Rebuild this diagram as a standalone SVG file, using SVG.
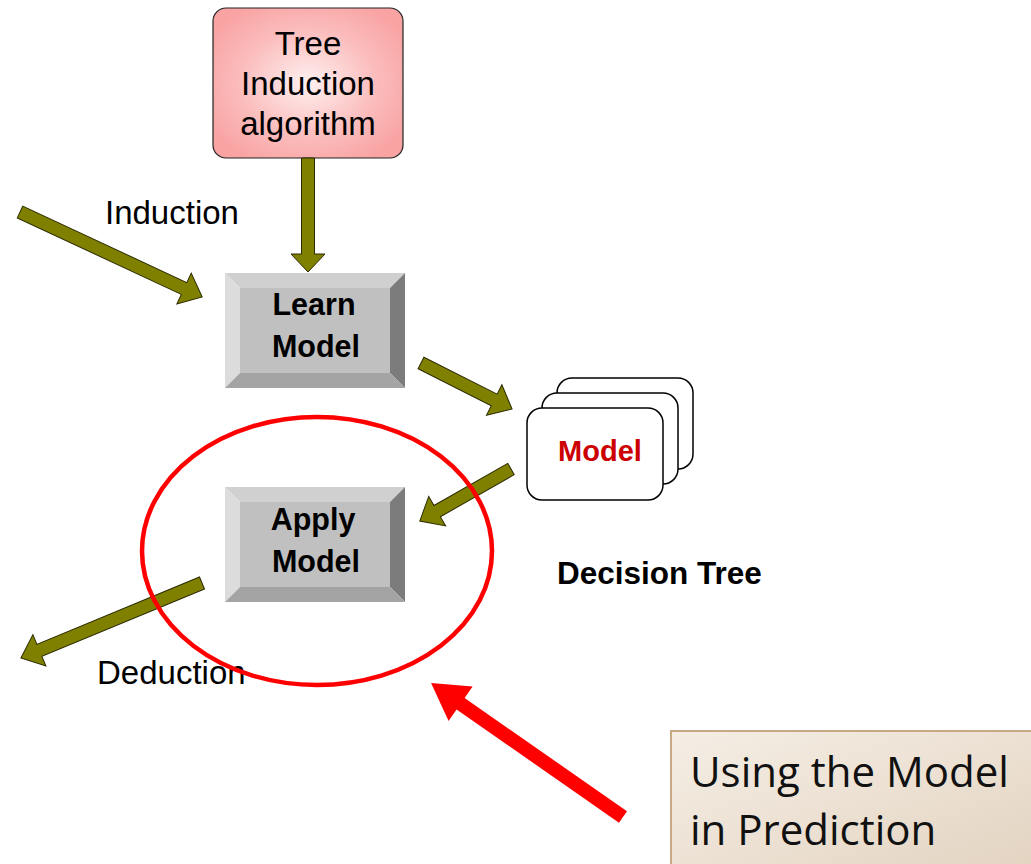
<svg xmlns="http://www.w3.org/2000/svg" width="1031" height="864" viewBox="0 0 1031 864">
<style>
.t{font-family:"Liberation Sans",Arial,sans-serif;fill:#000}
.b{font-family:"Liberation Sans",Arial,sans-serif;font-weight:bold}
.arr{fill:#808000;stroke:#2a2a00;stroke-width:1}
.card{fill:#fff;stroke:#000;stroke-width:1.5}
.co{font-family:"Open Sans","Liberation Sans",sans-serif;font-size:42px;fill:#111}
</style>
<defs>
<radialGradient id="pink" cx="50%" cy="50%" r="60%">
<stop offset="0" stop-color="#fff0f0"/>
<stop offset="0.6" stop-color="#fbbcbc"/>
<stop offset="1" stop-color="#f9a3a3"/>
</radialGradient>
<linearGradient id="beige" x1="0" y1="0" x2="1" y2="1">
<stop offset="0" stop-color="#f5eee5"/>
<stop offset="1" stop-color="#e2d2bf"/>
</linearGradient>
</defs>
<rect width="1031" height="864" fill="#fff"/>

<g id="tree-induction">
<rect x="213" y="8" width="190" height="150" rx="13" fill="url(#pink)" stroke="#222" stroke-width="1.2"/>
<text class="t" font-size="33" text-anchor="middle" x="308" y="55">Tree</text>
<text class="t" font-size="33" text-anchor="middle" x="308" y="95">Induction</text>
<text class="t" font-size="33" text-anchor="middle" x="308" y="135">algorithm</text>
</g>

<g id="learn-model">
<polygon points="225,273 405,273 390,288 240,288" fill="#d0d0d0"/>
<polygon points="225,273 240,288 240,373 225,388" fill="#dcdcdc"/>
<polygon points="405,273 405,388 390,373 390,288" fill="#7c7c7c"/>
<polygon points="225,388 240,373 390,373 405,388" fill="#a4a4a4"/>
<rect x="240" y="288" width="150" height="85" fill="#c0c0c0"/>
<text class="b" font-size="30.5" text-anchor="middle" x="314" y="315">Learn</text>
<text class="b" font-size="30.5" text-anchor="middle" x="316" y="357">Model</text>
</g>

<g id="apply-model">
<polygon points="225,487 405,487 390,502 240,502" fill="#d0d0d0"/>
<polygon points="225,487 240,502 240,587 225,602" fill="#dcdcdc"/>
<polygon points="405,487 405,602 390,587 390,502" fill="#7c7c7c"/>
<polygon points="225,602 240,587 390,587 405,602" fill="#a4a4a4"/>
<rect x="240" y="502" width="150" height="85" fill="#c0c0c0"/>
<text class="b" font-size="30.5" text-anchor="middle" x="313" y="530">Apply</text>
<text class="b" font-size="30.5" text-anchor="middle" x="316" y="572">Model</text>
</g>

<g id="model">
<rect class="card" x="557" y="378" width="136" height="91" rx="15"/>
<rect class="card" x="542" y="393" width="136" height="91" rx="15"/>
<rect class="card" x="527" y="408" width="136" height="92" rx="15"/>
<text class="b" font-size="29" fill="#cc0000" text-anchor="middle" x="600" y="461">Model</text>
</g>

<g id="decision-tree-label">
<text class="b" font-size="31.5" fill="#000" x="557" y="584">Decision Tree</text>
</g>

<g id="labels">
<text class="t" font-size="33" x="105" y="224">Induction</text>
<text class="t" font-size="33" x="97" y="684">Deduction</text>
</g>

<g id="connectors">
<polygon class="arr" transform="translate(20,212) rotate(25)" points="0,-6.5 181,-6.5 181,-17 201,0 181,17 181,6.5 0,6.5"/>
<polygon class="arr" transform="translate(308,158) rotate(90)" points="0,-6.5 96,-6.5 96,-17 114,0 96,17 96,6.5 0,6.5"/>
<polygon class="arr" transform="translate(421,363) rotate(26.8)" points="0,-6.5 82,-6.5 82,-17 102,0 82,17 82,6.5 0,6.5"/>
<polygon class="arr" transform="translate(511,469) rotate(150.3)" points="0,-6.5 85,-6.5 85,-17 105,0 85,17 85,6.5 0,6.5"/>
<polygon class="arr" transform="translate(202,583) rotate(157.5)" points="0,-6.5 176,-6.5 176,-17 196,0 176,17 176,6.5 0,6.5"/>
</g>

<g id="highlight">
<ellipse cx="317" cy="551" rx="175" ry="134" fill="none" stroke="#ff0000" stroke-width="4.5"/>
<polygon fill="#ff0000" transform="translate(623,817) rotate(214.9)" points="0,-7 198,-7 198,-21 234,0 198,21 198,7 0,7"/>
</g>

<g id="callout">
<rect x="671" y="731" width="380" height="150" fill="url(#beige)" stroke="#c6a882" stroke-width="2"/>
<text class="co" x="690" y="787">Using the Model</text>
<text class="co" x="690" y="845">in Prediction</text>
</g>
</svg>
